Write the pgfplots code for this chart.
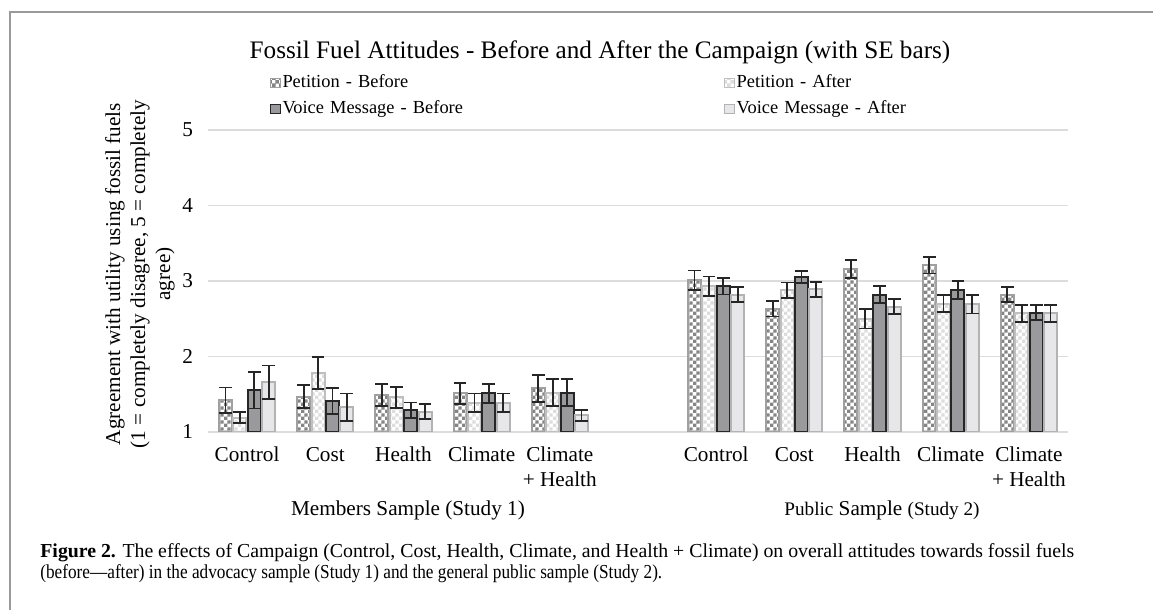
\documentclass[border=0pt]{standalone}
\usepackage{fontspec}
\setmainfont{Liberation Serif}
\usepackage{graphicx}
\usepackage{pgfplots}
\pgfplotsset{compat=1.18}
\usetikzlibrary{patterns}
\pgfdeclarepatternformonly{finechecker}{\pgfpointorigin}{\pgfqpoint{3.4pt}{3.4pt}}{\pgfqpoint{3.4pt}{3.4pt}}{%
  \pgfpathrectangle{\pgfpointorigin}{\pgfqpoint{1.75pt}{1.75pt}}%
  \pgfpathrectangle{\pgfqpoint{1.7pt}{1.7pt}}{\pgfqpoint{1.75pt}{1.75pt}}%
  \pgfusepath{fill}}
\definecolor{pbchk}{HTML}{858585}
\definecolor{pbedge}{HTML}{A0A0A0}
\definecolor{pachk}{HTML}{DDDDDD}
\definecolor{paedge}{HTML}{BFBFBF}
\definecolor{vbfill}{HTML}{9A9A9C}
\definecolor{vbedge}{HTML}{262626}
\definecolor{vafill}{HTML}{E7E7E9}
\definecolor{vaedge}{HTML}{B3B3B3}
\definecolor{gridc}{HTML}{DCDCDC}
\definecolor{errc}{HTML}{262626}
\definecolor{framec}{HTML}{9A9A9A}

\begin{document}
\begin{tikzpicture}
\useasboundingbox (0,0) rectangle (576.5pt,305pt);
% frame
\draw[framec, line width=1pt] (5pt,0) -- (5pt,299pt) -- (578pt,299pt);
\begin{axis}[
  at={(104pt,89pt)}, anchor=south west,
  scale only axis, width=430pt, height=151pt,
  xmin=-0.5, xmax=10.5, ymin=1, ymax=5,
  ybar=0.7pt, bar width=6.5pt,
  ymajorgrids, grid style={gridc, line width=0.8pt},
  ytick={1,2,3,4,5},
  xtick={0,1,2,3,4,6,7,8,9,10},
  xticklabels={Control,Cost,Health,Climate,{Climate\\+ Health},Control,Cost,Health,Climate,{Climate\\+ Health}},
  xticklabel style={align=center, font=\fontsize{10.6}{12.5}\selectfont, yshift=-4pt},
  yticklabel style={font=\fontsize{10.6}{12.5}\selectfont, xshift=-4pt},
  /pgf/number format/assume math mode=true,
  axis line style={draw=none}, major tick length=0pt, tick style={draw=none},
  clip=true,
  error bars/y dir=both, error bars/y explicit,
  error bars/error bar style={errc, line width=0.9pt},
  error bars/error mark options={rotate=90, mark size=3.2pt, line width=0.9pt, errc},
  legend columns=2,
  legend style={at={(0.065,1.215)}, anchor=north west, draw=none, fill=none,
    font=\fontsize{9.2}{11}\selectfont,
    nodes={text width=220pt, align=left, inner xsep=1pt, inner ysep=2.6pt},
    /tikz/every odd column/.append style={column sep=0pt}},
  legend image code/.code={\draw[#1, line width=0.5pt] (0pt,-2.3pt) rectangle (4.6pt,2.3pt);},
]
\addplot[draw=pbedge, line width=1pt, fill=white, postaction={pattern=finechecker, pattern color=pbchk}]
 coordinates {(0,1.42) +- (0,0.17) (1,1.47) +- (0,0.15) (2,1.49) +- (0,0.15) (3,1.51) +- (0,0.14) (4,1.58) +- (0,0.18)
  (6,3.01) +- (0,0.13) (7,2.63) +- (0,0.10) (8,3.16) +- (0,0.12) (9,3.21) +- (0,0.11) (10,2.82) +- (0,0.10)};
\addplot[draw=paedge, line width=1pt, fill=white, postaction={pattern=finechecker, pattern color=pachk}]
 coordinates {(0,1.19) +- (0,0.07) (1,1.78) +- (0,0.21) (2,1.46) +- (0,0.14) (3,1.39) +- (0,0.12) (4,1.52) +- (0,0.18)
  (6,2.93) +- (0,0.13) (7,2.88) +- (0,0.10) (8,2.50) +- (0,0.13) (9,2.70) +- (0,0.11) (10,2.57) +- (0,0.11)};
\addplot[draw=vbedge, line width=1pt, fill=vbfill]
 coordinates {(0,1.55) +- (0,0.24) (1,1.41) +- (0,0.17) (2,1.29) +- (0,0.10) (3,1.51) +- (0,0.13) (4,1.52) +- (0,0.18)
  (6,2.93) +- (0,0.11) (7,3.05) +- (0,0.08) (8,2.82) +- (0,0.11) (9,2.88) +- (0,0.12) (10,2.58) +- (0,0.10)};
\addplot[draw=vaedge, line width=1pt, fill=vafill]
 coordinates {(0,1.66) +- (0,0.22) (1,1.33) +- (0,0.18) (2,1.27) +- (0,0.10) (3,1.39) +- (0,0.12) (4,1.22) +- (0,0.07)
  (6,2.82) +- (0,0.10) (7,2.89) +- (0,0.10) (8,2.66) +- (0,0.10) (9,2.69) +- (0,0.12) (10,2.57) +- (0,0.11)};
\legend{Petition - Before, Petition - After, Voice Message - Before, Voice Message - After}
\end{axis}
% title
\node[font=\fontsize{12.6}{15}\selectfont] at (300pt,279pt) {Fossil Fuel Attitudes - Before and After the Campaign (with SE bars)};
% y label
\node[rotate=90, align=center, font=\fontsize{10.6}{12.5}\selectfont] at (70pt,168pt)
 {Agreement with utility using fossil fuels\\(1 = completely disagree, 5 = completely\\agree)};
% group labels
\node[font=\fontsize{10.6}{12.5}\selectfont] at (204pt,50pt) {Members Sample (Study 1)};
\node[font=\fontsize{10.6}{12.5}\selectfont] at (441pt,50pt) {{\fontsize{9.6}{12}\selectfont Public} Sample {\fontsize{9.6}{12}\selectfont (Study 2)}};
% caption
\node[anchor=base west, font=\fontsize{9.9}{10.5}\selectfont, inner sep=0pt] at (20pt,26pt)
 {\textbf{Figure 2.} The effects of Campaign (Control, Cost, Health, Climate, and Health + Climate) on overall attitudes towards fossil fuels};
\node[anchor=base west, font=\fontsize{9.9}{10.5}\selectfont, inner sep=0pt] at (20pt,15.5pt)
 {\scalebox{0.87}[1]{(before—after) in the advocacy sample (Study 1) and the general public sample (Study 2).}};
\end{tikzpicture}
\end{document}
